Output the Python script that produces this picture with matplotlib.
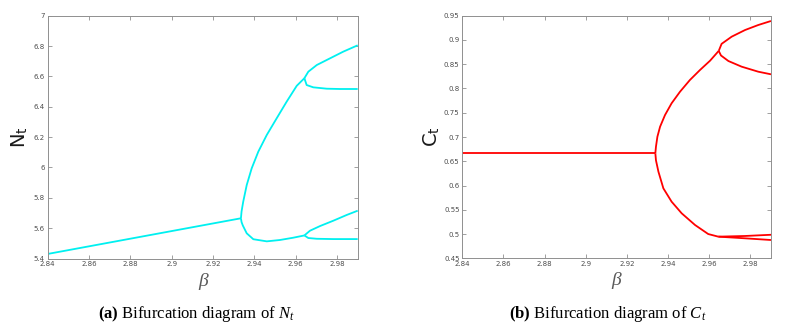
import matplotlib
matplotlib.use("Agg")
import matplotlib.pyplot as plt
from matplotlib.ticker import FormatStrFormatter

plt.rcParams['mathtext.fontset'] = 'custom'
plt.rcParams['mathtext.rm'] = 'Liberation Serif'
plt.rcParams['mathtext.it'] = 'Liberation Serif:italic'
plt.rcParams['mathtext.bf'] = 'Liberation Serif:bold'

# ---------------- data: panel (a) N_t ----------------
beta_N_p1 = [2.84, 2.9335]
N_p1 = [5.430, 5.665]

beta_N_p2_up = [2.9335, 2.9338, 2.9346, 2.9363, 2.9387, 2.9419, 2.9460, 2.9508, 2.9556, 2.9605, 2.9642]
N_p2_up = [5.665, 5.710, 5.774, 5.884, 5.994, 6.104, 6.214, 6.324, 6.433, 6.538, 6.588]

beta_N_p2_lo = [2.9335, 2.9338, 2.9344, 2.9363, 2.9395, 2.9460, 2.9524, 2.9588, 2.9642]
N_p2_lo = [5.665, 5.640, 5.618, 5.566, 5.527, 5.513, 5.522, 5.537, 5.552]

beta_N_p4_a = [2.9642, 2.9661, 2.9702, 2.9766, 2.9830, 2.9900]
N_p4_a = [6.588, 6.631, 6.675, 6.719, 6.763, 6.805]
beta_N_p4_b = [2.9642, 2.9653, 2.9685, 2.9750, 2.9814, 2.9900]
N_p4_b = [6.588, 6.543, 6.528, 6.519, 6.517, 6.517]
beta_N_p4_c = [2.9642, 2.9669, 2.9718, 2.9782, 2.9847, 2.9900]
N_p4_c = [5.552, 5.583, 5.614, 5.649, 5.687, 5.715]
beta_N_p4_d = [2.9642, 2.9661, 2.9702, 2.9782, 2.9900]
N_p4_d = [5.552, 5.535, 5.530, 5.528, 5.528]

# ---------------- data: panel (b) C_t ----------------
beta_C_p1 = [2.84, 2.9338]
C_p1 = [0.6665, 0.6665]

beta_C_p2_up = [2.9338, 2.9341, 2.9348, 2.9361, 2.9385, 2.9417, 2.9458, 2.9506, 2.9555, 2.9604, 2.9646]
C_p2_up = [0.6665, 0.6800, 0.7006, 0.7212, 0.7453, 0.7695, 0.7934, 0.8175, 0.8381, 0.8573, 0.8775]

beta_C_p2_lo = [2.9338, 2.9341, 2.9353, 2.9377, 2.9417, 2.9466, 2.9531, 2.9595, 2.9644]
C_p2_lo = [0.6665, 0.652, 0.6285, 0.5942, 0.5667, 0.5427, 0.5186, 0.5000, 0.4946]

beta_C_p4_a = [2.9646, 2.9660, 2.9709, 2.9774, 2.9838, 2.9900]
C_p4_a = [0.8775, 0.8920, 0.9068, 0.9205, 0.9308, 0.9391]
beta_C_p4_b = [2.9646, 2.9657, 2.9693, 2.9757, 2.9838, 2.9900]
C_p4_b = [0.8775, 0.8680, 0.8566, 0.8450, 0.8346, 0.8292]
beta_C_p4_c = [2.9644, 2.9774, 2.9900]
C_p4_c = [0.4946, 0.4960, 0.4985]
beta_C_p4_d = [2.9644, 2.9774, 2.9900]
C_p4_d = [0.4946, 0.4912, 0.4877]

x_ticks = [2.84, 2.86, 2.88, 2.90, 2.92, 2.94, 2.96, 2.98]
N_ticks = [5.4, 5.6, 5.8, 6.0, 6.2, 6.4, 6.6, 6.8, 7.0]
C_ticks = [0.45, 0.5, 0.55, 0.6, 0.65, 0.7, 0.75, 0.8, 0.85, 0.9, 0.95]

fig = plt.figure(figsize=(7.92, 3.27), dpi=100)
axL = fig.add_axes([47.7/792, (327-258.5)/327, 310/792, 242.8/327])
axR = fig.add_axes([462.3/792, (327-258.3)/327, 308.7/792, 242.6/327])

spine_c = '#8f8f8f'
lab_c = '#4d4d4d'

def style(ax, yticks, ylim):
    ax.set_xlim(2.84, 2.99)
    ax.set_ylim(*ylim)
    ax.set_xticks(x_ticks)
    ax.set_yticks(yticks)
    ax.xaxis.set_major_formatter(FormatStrFormatter('%g'))
    ax.yaxis.set_major_formatter(FormatStrFormatter('%g'))
    ax.tick_params(direction='in', length=3, width=0.6, colors=spine_c,
                   labelcolor=lab_c, labelsize=5, top=True, right=True, pad=2)
    for s in ax.spines.values():
        s.set_color(spine_c)
        s.set_linewidth(0.7)

cyan = '#00f0f0'
red = '#ff0000'
lw = 1.3
for b, v in [(beta_N_p1, N_p1), (beta_N_p2_up, N_p2_up), (beta_N_p2_lo, N_p2_lo),
             (beta_N_p4_a, N_p4_a), (beta_N_p4_b, N_p4_b), (beta_N_p4_c, N_p4_c),
             (beta_N_p4_d, N_p4_d)]:
    axL.plot(b, v, color=cyan, lw=lw, solid_capstyle='butt')
for b, v in [(beta_C_p1, C_p1), (beta_C_p2_up, C_p2_up), (beta_C_p2_lo, C_p2_lo),
             (beta_C_p4_a, C_p4_a), (beta_C_p4_b, C_p4_b), (beta_C_p4_c, C_p4_c),
             (beta_C_p4_d, C_p4_d)]:
    axR.plot(b, v, color=red, lw=lw, solid_capstyle='butt')

style(axL, N_ticks, (5.4, 7.0))
style(axR, C_ticks, (0.45, 0.95))

axL.set_ylabel(r'N$_\mathregular{t}$', fontsize=14, family='DejaVu Sans', color='#1a1a1a')
axL.yaxis.set_label_coords(-0.057, 0.5)
axR.set_ylabel(r'C$_\mathregular{t}$', fontsize=14, family='DejaVu Sans', color='#1a1a1a')
axR.yaxis.set_label_coords(-0.066, 0.5)

for ax in (axL, axR):
    ax.set_xlabel('β', fontsize=14, family='Liberation Serif', style='italic', color='#5a5a5a')
    ax.xaxis.set_label_coords(0.5, -0.058)

fig.text(196/792, 1-314/327, r'$\mathbf{(a)}$ Bifurcation diagram of $N_t$',
         ha='center', va='center', fontsize=12, family='Liberation Serif')
fig.text(608/792, 1-314/327, r'$\mathbf{(b)}$ Bifurcation diagram of $C_t$',
         ha='center', va='center', fontsize=12, family='Liberation Serif')

fig.savefig('out.png', dpi=100, facecolor='white')
